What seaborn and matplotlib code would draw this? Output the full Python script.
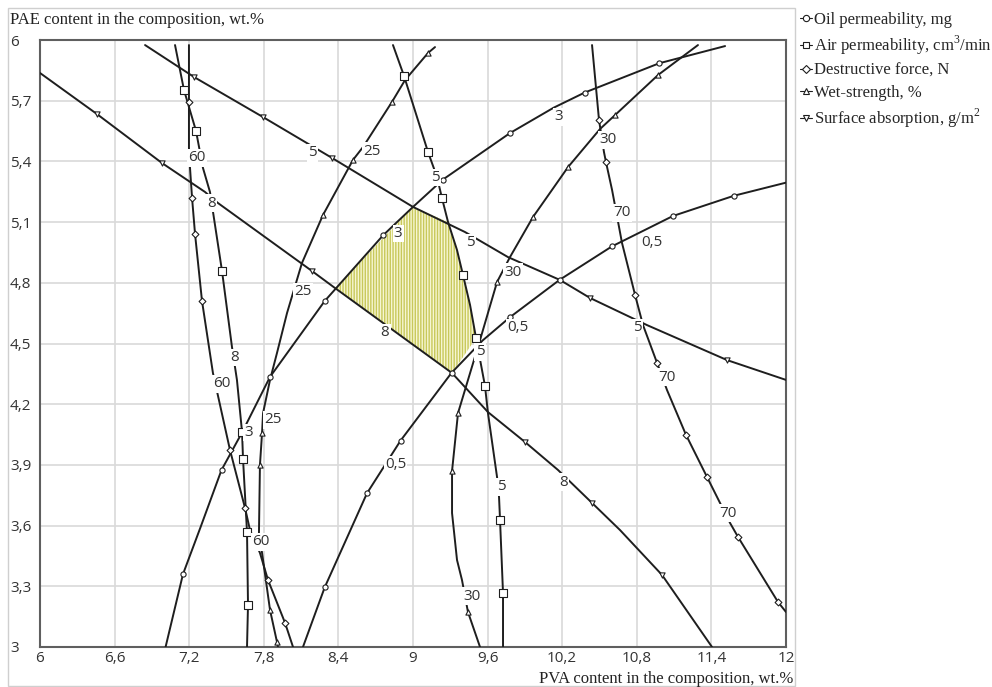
import matplotlib
matplotlib.use('Agg')
from matplotlib import pyplot as plt
from matplotlib.lines import Line2D
from matplotlib.patches import Rectangle
import seaborn as sns

# axes ticks
x_ticks = [6.0, 6.6, 7.2, 7.8, 8.4, 9.0, 9.6, 10.2, 10.8, 11.4, 12.0]
y_ticks = [3.0, 3.3, 3.6, 3.9, 4.2, 4.5, 4.8, 5.1, 5.4, 5.7, 6.0]

# Oil permeability, mg
oil_3_line = [(7.01, 3.0), (7.15, 3.36), (7.29, 3.59), (7.46, 3.875), (7.625, 4.06), (7.85, 4.335),
              (8.29, 4.71), (8.76, 5.035), (9.0, 5.175), (9.24, 5.31), (9.78, 5.54), (10.13, 5.665),
              (10.38, 5.74), (10.98, 5.885), (11.51, 5.97)]
oil_3_marks = [(7.15, 3.36), (7.46, 3.875), (7.85, 4.335), (8.29, 4.71), (8.76, 5.035), (9.24, 5.31),
               (9.78, 5.54), (10.38, 5.74), (10.98, 5.885)]
oil_3_labels = [(7.68, 4.06), (8.88, 5.045), (10.17, 5.62)]

oil_05_line = [(8.115, 3.0), (8.29, 3.295), (8.63, 3.76), (8.90, 4.02), (9.31, 4.355), (9.56, 4.515),
               (9.78, 4.63), (10.18, 4.815), (10.60, 4.98), (11.09, 5.13), (11.58, 5.23), (12.0, 5.295)]
oil_05_marks = [(8.29, 3.295), (8.63, 3.76), (8.90, 4.02), (9.31, 4.355), (9.78, 4.63), (10.18, 4.815),
                (10.60, 4.98), (11.09, 5.13), (11.58, 5.23)]
oil_05_labels = [(8.86, 3.90), (9.845, 4.577), (10.92, 5.0)]

# Air permeability, cm3/min
air_8_line = [(7.086, 5.975), (7.158, 5.753), (7.255, 5.55), (7.311, 5.367), (7.367, 5.249), (7.464, 4.858),
              (7.544, 4.483), (7.584, 4.32), (7.625, 4.063), (7.633, 3.929), (7.665, 3.568), (7.673, 3.208),
              (7.665, 3.0)]
air_8_marks = [(7.158, 5.753), (7.255, 5.55), (7.464, 4.858), (7.625, 4.063), (7.633, 3.929),
               (7.665, 3.568), (7.673, 3.208)]
air_8_labels = [(7.383, 5.194), (7.568, 4.43)]

air_5_line = [(8.839, 5.975), (8.928, 5.822), (9.121, 5.446), (9.193, 5.323), (9.233, 5.219), (9.282, 5.10),
              (9.354, 4.962), (9.402, 4.839), (9.459, 4.69), (9.507, 4.527), (9.579, 4.29), (9.603, 4.156),
              (9.676, 3.84), (9.692, 3.741), (9.70, 3.628), (9.724, 3.267), (9.724, 3.0)]
air_5_marks = [(8.928, 5.822), (9.121, 5.446), (9.233, 5.219), (9.402, 4.839), (9.507, 4.527),
               (9.579, 4.29), (9.70, 3.628), (9.724, 3.267)]
air_5_labels = [(9.18, 5.32), (9.539, 4.458), (9.708, 3.791)]

# Destructive force, N
force_60_line = [(7.198, 5.975), (7.198, 5.694), (7.198, 5.466), (7.206, 5.372), (7.223, 5.219),
                 (7.247, 5.041), (7.303, 4.71), (7.391, 4.354), (7.528, 3.974), (7.649, 3.687),
                 (7.689, 3.578), (7.769, 3.465), (7.834, 3.331), (7.971, 3.119), (8.035, 3.0)]
force_60_marks = [(7.198, 5.694), (7.223, 5.219), (7.247, 5.041), (7.303, 4.71), (7.528, 3.974),
                  (7.649, 3.687), (7.834, 3.331), (7.971, 3.119)]
force_60_labels = [(7.263, 5.417), (7.464, 4.30), (7.778, 3.519)]

force_70_line = [(10.44, 5.975), (10.496, 5.605), (10.536, 5.446), (10.552, 5.397), (10.601, 5.259),
                 (10.657, 5.076), (10.681, 4.997), (10.786, 4.74), (10.85, 4.591), (10.963, 4.404),
                 (11.043, 4.27), (11.196, 4.048), (11.365, 3.84), (11.55, 3.613), (11.614, 3.544),
                 (11.936, 3.222), (12.0, 3.173)]
force_70_marks = [(10.496, 5.605), (10.552, 5.397), (10.786, 4.74), (10.963, 4.404), (11.196, 4.048),
                  (11.365, 3.84), (11.614, 3.544), (11.936, 3.222)]
force_70_labels = [(10.681, 5.145), (11.043, 4.334), (11.534, 3.662)]

# Wet-strength, %
wet_30_line = [(11.292, 5.975), (11.164, 5.916), (10.971, 5.827), (10.625, 5.629), (10.504, 5.56),
               (10.247, 5.372), (9.965, 5.125), (9.78, 4.927), (9.676, 4.804), (9.539, 4.517),
               (9.362, 4.156), (9.314, 3.87), (9.314, 3.662), (9.354, 3.43), (9.394, 3.331),
               (9.442, 3.173), (9.539, 3.0)]
wet_30_marks = [(10.971, 5.827), (10.625, 5.629), (10.247, 5.372), (9.965, 5.125), (9.676, 4.804),
                (9.362, 4.156), (9.314, 3.87), (9.442, 3.173)]
wet_30_labels = [(10.569, 5.506), (9.804, 4.853), (9.475, 3.252)]

wet_25_line = [(9.177, 5.965), (9.121, 5.936), (8.936, 5.802), (8.831, 5.694), (8.598, 5.471),
               (8.517, 5.407), (8.276, 5.135), (8.107, 4.898), (7.987, 4.651), (7.906, 4.453),
               (7.85, 4.32), (7.794, 4.156), (7.786, 4.058), (7.769, 3.899), (7.761, 3.563),
               (7.786, 3.465), (7.85, 3.183), (7.906, 3.025), (7.914, 3.0)]
wet_25_marks = [(9.121, 5.936), (8.831, 5.694), (8.517, 5.407), (8.276, 5.135), (7.786, 4.058),
                (7.769, 3.899), (7.85, 3.183), (7.906, 3.025)]
wet_25_labels = [(8.67, 5.451), (8.115, 4.755), (7.874, 4.122)]

# Surface absorption, g/m2
sa_5_line = [(6.845, 5.975), (7.239, 5.817), (7.794, 5.619), (8.349, 5.417), (9.0, 5.175), (9.418, 5.051),
             (9.764, 4.927), (10.182, 4.814), (10.424, 4.725), (10.882, 4.591), (11.526, 4.418), (12.0, 4.32)]
sa_5_marks = [(7.239, 5.817), (7.794, 5.619), (8.349, 5.417), (10.424, 4.725), (11.526, 4.418)]
sa_5_labels = [(8.188, 5.442), (9.459, 4.997), (10.802, 4.577)]

sa_8_line = [(6.0, 5.837), (6.458, 5.634), (6.981, 5.392), (7.327, 5.249), (7.432, 5.194), (8.188, 4.858),
             (8.373, 4.774), (9.314, 4.354), (9.603, 4.161), (9.901, 4.013), (10.166, 3.875), (10.44, 3.712),
             (10.665, 3.578), (11.003, 3.356), (11.405, 3.0)]
sa_8_marks = [(6.458, 5.634), (6.981, 5.392), (8.188, 4.858), (9.901, 4.013), (10.44, 3.712), (11.003, 3.356)]
sa_8_labels = [(8.775, 4.552), (10.207, 3.815)]

# feasible region (hatched)
region_x = [8.373, 9.0, 9.282, 9.354, 9.402, 9.459, 9.507, 9.314]
region_y = [4.774, 5.175, 5.10, 4.962, 4.839, 4.69, 4.527, 4.354]

properties = ['Oil permeability, mg', 'Air permeability, cm$^3$/min', 'Destructive force, N',
              'Wet-strength, %', 'Surface absorption, g/m$^2$']


sns.set_theme(style='white')
plt.rcParams['font.family'] = ['Liberation Serif', 'DejaVu Serif']
plt.rcParams['mathtext.fontset'] = 'custom'
plt.rcParams['mathtext.rm'] = 'Liberation Serif'
plt.rcParams['hatch.linewidth'] = 1.0

W, H = 992, 687
fig = plt.figure(figsize=(W / 100, H / 100), dpi=100)
ax = fig.add_axes([40 / W, 1 - 647 / H, 746 / W, 607 / H])

ink = '#1e1e1e'
marker_style = {
    properties[0]: dict(marker='o', s=14),
    properties[1]: dict(marker='s', s=26),
    properties[2]: dict(marker='D', s=12),
    properties[3]: dict(marker='^', s=14),
    properties[4]: dict(marker='v', s=14),
}

curves = [
    (properties[0], '3', oil_3_line, oil_3_marks, oil_3_labels),
    (properties[0], '0,5', oil_05_line, oil_05_marks, oil_05_labels),
    (properties[1], '8', air_8_line, air_8_marks, air_8_labels),
    (properties[1], '5', air_5_line, air_5_marks, air_5_labels),
    (properties[2], '60', force_60_line, force_60_marks, force_60_labels),
    (properties[2], '70', force_70_line, force_70_marks, force_70_labels),
    (properties[3], '30', wet_30_line, wet_30_marks, wet_30_labels),
    (properties[3], '25', wet_25_line, wet_25_marks, wet_25_labels),
    (properties[4], '5', sa_5_line, sa_5_marks, sa_5_labels),
    (properties[4], '8', sa_8_line, sa_8_marks, sa_8_labels),
]

ax.fill(region_x, region_y, facecolor='#f6f6d2', edgecolor='#c8c85a', hatch='||||||', lw=0, zorder=1)

for prop, level, line, marks, labels in curves:
    lx, ly = zip(*line)
    sns.lineplot(x=list(lx), y=list(ly), sort=False, estimator=None, color=ink, lw=1.4, ax=ax, zorder=3)
    mx, my = zip(*marks)
    sns.scatterplot(x=list(mx), y=list(my), color='white', edgecolor=ink, linewidth=0.8,
                    ax=ax, zorder=4, legend=False, **marker_style[prop])
    for x, y in labels:
        ax.text(x, y, level, ha='center', va='center', fontfamily='Open Sans', fontsize=11, color='#333333',
                bbox=dict(boxstyle='square,pad=0.08', fc='white', ec='none'), zorder=5)

ax.set_xlim(6, 12)
ax.set_ylim(3, 6)
ax.set_xticks(x_ticks)
ax.set_yticks(y_ticks)
ax.set_xticklabels([f'{v:g}'.replace('.', ',') for v in x_ticks])
ax.set_yticklabels([f'{v:g}'.replace('.', ',') for v in y_ticks])
ax.set_xlabel('')
ax.set_ylabel('')
ax.grid(True, color='#d9d9d9', lw=1.2)
ax.set_axisbelow(True)
for s in ax.spines.values():
    s.set_color('#5f5f5f')
    s.set_linewidth(1.5)
ax.tick_params(axis='both', length=0, labelsize=11, labelcolor='#333333')
ax.tick_params(axis='y', pad=21.6)
ax.tick_params(axis='x', pad=3)
for lbl in ax.get_yticklabels():
    lbl.set_ha('left')
    lbl.set_fontfamily('Open Sans')
for lbl in ax.get_xticklabels():
    lbl.set_fontfamily('Open Sans')

fig.text(10 / W, 1 - 20 / H, 'PAE content in the composition, wt.%', ha='left', va='center',
         fontsize=12, color='#222222')
fig.text(793 / W, 1 - 679 / H, 'PVA content in the composition, wt.%', ha='right', va='center',
         fontsize=12, color='#222222')

fig.add_artist(Rectangle((8 / W, 1 - 686 / H), 787 / W, 678 / H, transform=fig.transFigure,
                         fill=False, ec='#cfcfcf', lw=1))

handles = [Line2D([], [], color=ink, lw=0.8, marker=marker_style[p]['marker'], ms=4.5,
                  mfc='white', mec=ink, mew=0.8) for p in properties]
fig.legend(handles, properties, loc='upper left', bbox_to_anchor=(800 / W, 1 - 12 / H),
           frameon=False, fontsize=12, handlelength=0.7, handletextpad=0.15, labelspacing=0.35,
           borderpad=0, borderaxespad=0)

fig.savefig('out.png', dpi=100)
